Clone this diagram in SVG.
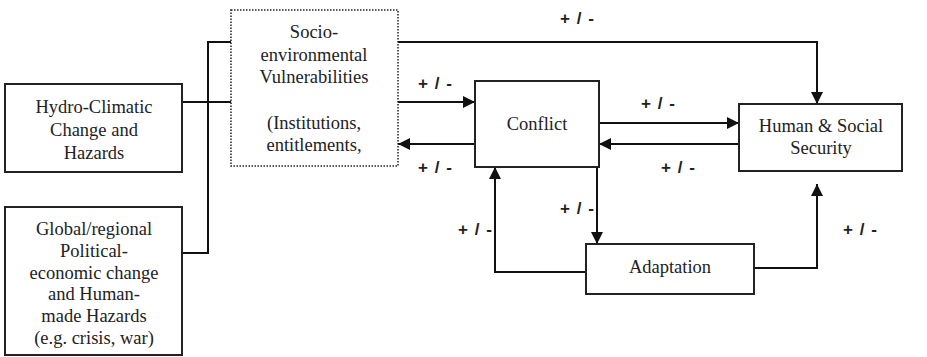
<svg xmlns="http://www.w3.org/2000/svg" width="927" height="357" viewBox="0 0 927 357">
<defs>
<marker id="ah" viewBox="0 0 12 12" refX="12" refY="6" markerWidth="12" markerHeight="12" markerUnits="userSpaceOnUse" orient="auto">
<path d="M0,0 L12,6 L0,12 Z" fill="#111"/>
</marker>
<style>
.box{fill:#fff;stroke:#222;stroke-width:2}
.dot{fill:#fff;stroke:#222;stroke-width:1.5;stroke-dasharray:1.5 1.5}
.t{font-family:"Liberation Serif","Times New Roman",serif;font-size:18.5px;fill:#222;text-anchor:middle}
.l{font-family:"Liberation Sans",Arial,sans-serif;font-size:17px;font-weight:bold;fill:#222;text-anchor:middle;word-spacing:2px}
.c{fill:none;stroke:#111;stroke-width:2}
.a{fill:none;stroke:#111;stroke-width:2;marker-end:url(#ah)}
</style>
</defs>
<rect width="927" height="357" fill="#fff"/>
<g id="connectors">
<path class="c" d="M182,102 H231"/>
<path class="c" d="M231,42 H208 V253 H182"/>
<path class="a" d="M398,42 H817 V104"/>
<path class="a" d="M398,102 H475"/>
<path class="a" d="M475,144 H398"/>
<path class="a" d="M599,123 H739"/>
<path class="a" d="M739,144 H599"/>
<path class="a" d="M597,167 V244"/>
<path class="a" d="M586,272 H495 V167"/>
<path class="a" d="M754,268 H817 V184"/>
<text class="l" x="577" y="24">+ / -</text>
<text class="l" x="435" y="89">+ / -</text>
<text class="l" x="435" y="173">+ / -</text>
<text class="l" x="658" y="109">+ / -</text>
<text class="l" x="678" y="173">+ / -</text>
<text class="l" x="577" y="214">+ / -</text>
<text class="l" x="475" y="235">+ / -</text>
<text class="l" x="860" y="235">+ / -</text>
</g>
<g id="hydro">
<rect class="box" x="5" y="84" width="177" height="88"/>
<text class="t" x="94" y="113">Hydro-Climatic</text>
<text class="t" x="94" y="136">Change and</text>
<text class="t" x="94" y="159">Hazards</text>
</g>
<g id="global">
<rect class="box" x="5" y="207" width="177" height="148"/>
<text class="t" x="94" y="235">Global/regional</text>
<text class="t" x="94" y="257">Political-</text>
<text class="t" x="94" y="279">economic change</text>
<text class="t" x="94" y="300">and Human-</text>
<text class="t" x="94" y="322">made Hazards</text>
<text class="t" x="94" y="344">(e.g. crisis, war)</text>
</g>
<g id="socio">
<rect class="dot" x="231" y="10" width="167" height="156"/>
<text class="t" x="314" y="38">Socio-</text>
<text class="t" x="314" y="61">environmental</text>
<text class="t" x="314" y="83">Vulnerabilities</text>
<text class="t" x="314" y="129">(Institutions,</text>
<text class="t" x="314" y="151">entitlements,</text>
</g>
<g id="conflict">
<rect class="box" x="475" y="81" width="124" height="86"/>
<text class="t" x="537" y="130">Conflict</text>
</g>
<g id="security">
<rect class="box" x="739" y="104" width="163" height="67"/>
<text class="t" x="821" y="132">Human &amp; Social</text>
<text class="t" x="821" y="154">Security</text>
</g>
<g id="adaptation">
<rect class="box" x="586" y="244" width="168" height="50"/>
<text class="t" x="670" y="273">Adaptation</text>
</g>
</svg>
